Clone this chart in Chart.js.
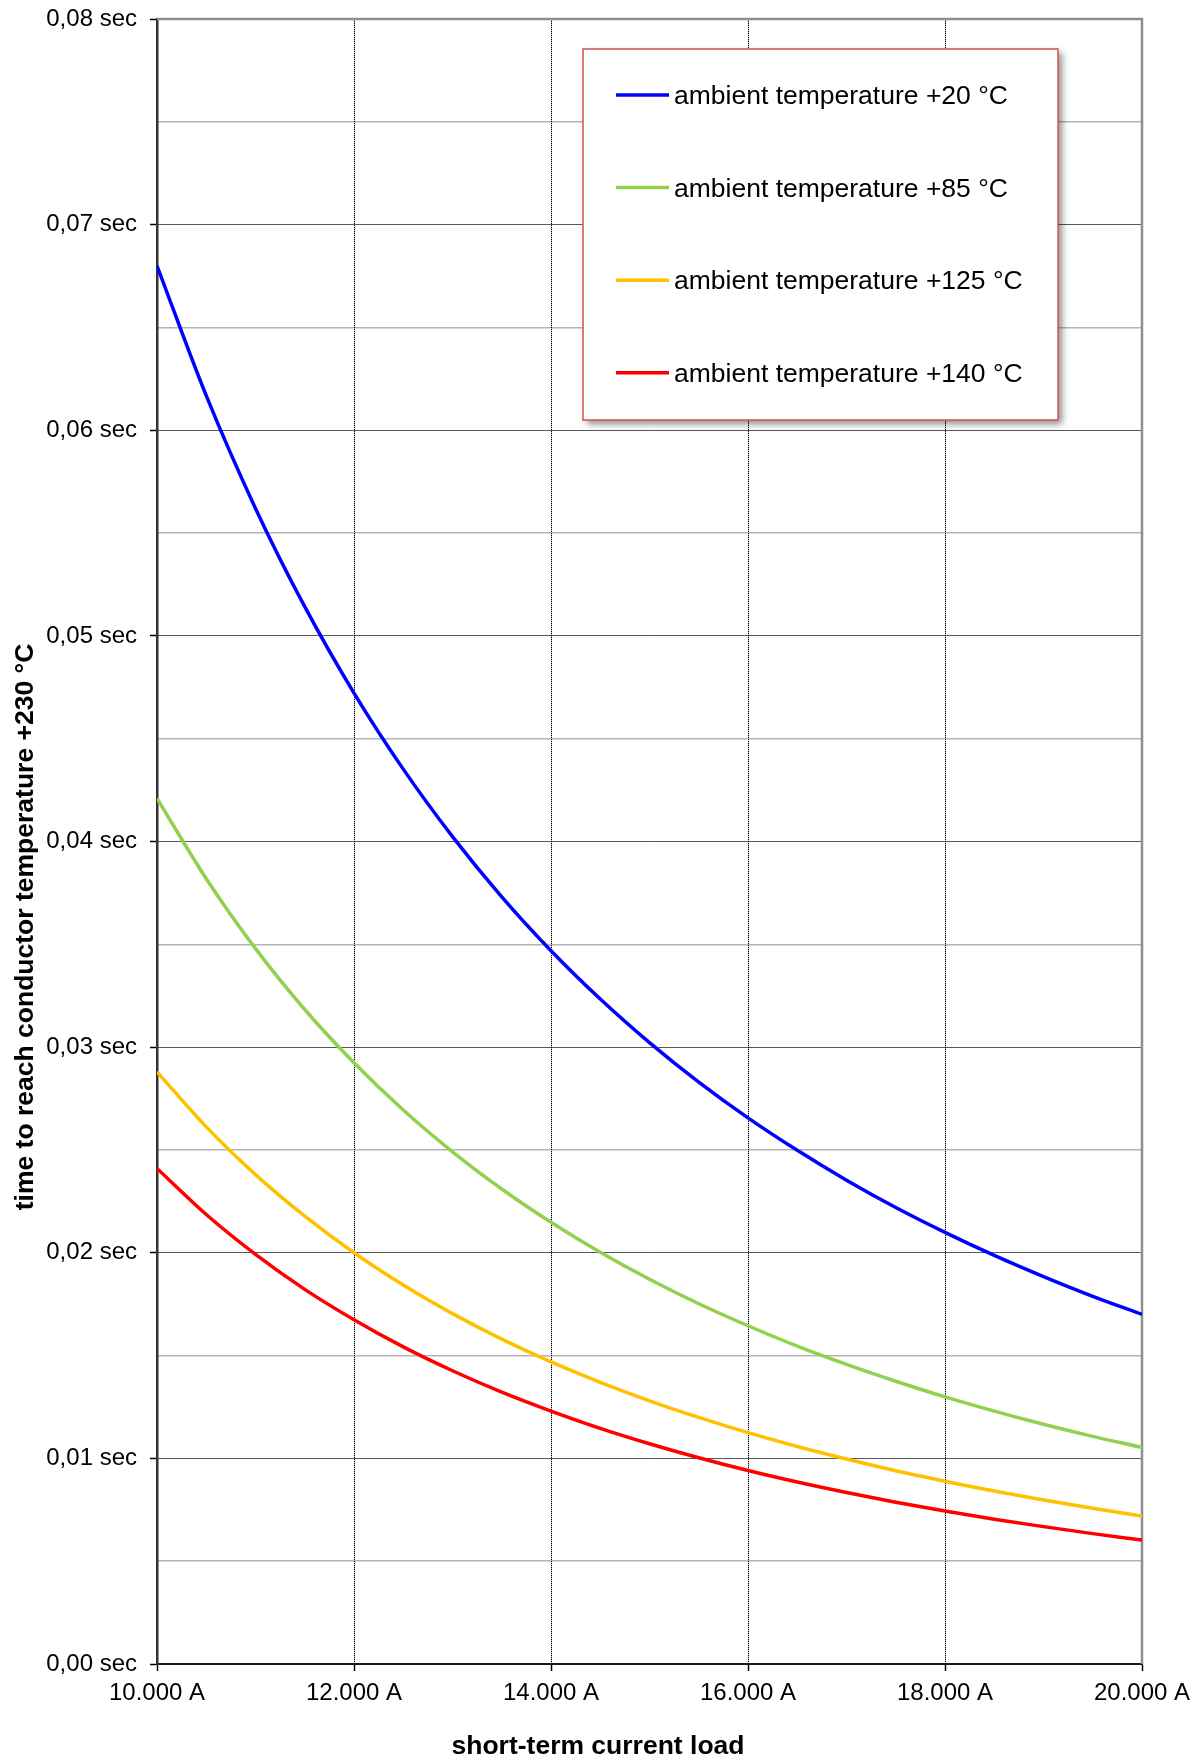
<!DOCTYPE html>
<html>
<head>
<meta charset="utf-8">
<script src="https://cdn.jsdelivr.net/npm/chart.js@4.4.1/dist/chart.umd.min.js"></script>
<style>
  html, body { margin: 0; padding: 0; background: #ffffff; }
  #wrap { width: 1201px; height: 1758px; position: relative; }
</style>
</head>
<body>
<div id="wrap"><canvas id="chart" width="1201" height="1758"></canvas></div>
<script>
// Short-term current load (A)
const currents = [10000, 10500, 11000, 11500, 12000, 12500, 13000, 13500, 14000, 14500, 15000,
                  15500, 16000, 16500, 17000, 17500, 18000, 18500, 19000, 19500, 20000];

// Time (s) until the conductor reaches +230 °C, per ambient temperature
const t20  = [0.06800, 0.06168, 0.05620, 0.05142, 0.04722, 0.04352, 0.04024, 0.03731, 0.03469, 0.03234, 0.03022,
              0.02830, 0.02656, 0.02498, 0.02353, 0.02220, 0.02099, 0.01987, 0.01884, 0.01788, 0.01700];
const t85  = [0.04210, 0.03819, 0.03479, 0.03183, 0.02924, 0.02694, 0.02491, 0.02310, 0.02148, 0.02002, 0.01871,
              0.01752, 0.01645, 0.01546, 0.01457, 0.01375, 0.01299, 0.01230, 0.01166, 0.01107, 0.01053];
const t125 = [0.02880, 0.02612, 0.02380, 0.02178, 0.02000, 0.01843, 0.01704, 0.01580, 0.01469, 0.01370, 0.01280,
              0.01199, 0.01125, 0.01058, 0.00997, 0.00940, 0.00889, 0.00841, 0.00798, 0.00757, 0.00720];
const t140 = [0.02410, 0.02186, 0.01992, 0.01822, 0.01674, 0.01542, 0.01426, 0.01322, 0.01230, 0.01146, 0.01071,
              0.01003, 0.00941, 0.00885, 0.00834, 0.00787, 0.00744, 0.00704, 0.00668, 0.00634, 0.00603];

const seriesNames = ['ambient temperature +20 °C', 'ambient temperature +85 °C',
                     'ambient temperature +125 °C', 'ambient temperature +140 °C'];
const seriesColors = ['#0000ff', '#92d050', '#ffc000', '#ff0000'];

// Axis ticks
const xTickValues = [10000, 12000, 14000, 16000, 18000, 20000];
const xTickLabels = ['10.000 A', '12.000 A', '14.000 A', '16.000 A', '18.000 A', '20.000 A'];
const yTickValues = [0, 0.01, 0.02, 0.03, 0.04, 0.05, 0.06, 0.07, 0.08];
const yTickLabels = ['0,00 sec', '0,01 sec', '0,02 sec', '0,03 sec', '0,04 sec',
                     '0,05 sec', '0,06 sec', '0,07 sec', '0,08 sec'];
const yMinorValues = [0.005, 0.015, 0.025, 0.035, 0.045, 0.055, 0.065, 0.075];

const xTitle = 'short-term current load';
const yTitle = 'time to reach conductor temperature +230 °C';

const FONT = '"Liberation Sans", Arial, Helvetica, sans-serif';

const seriesValues = [t20, t85, t125, t140];
const datasets = seriesValues.map((vals, i) => ({
  label: seriesNames[i],
  data: currents.map((c, k) => ({ x: c, y: vals[k] })),
  borderColor: seriesColors[i],
  backgroundColor: seriesColors[i],
  borderWidth: 3.5,
  pointRadius: 0,
  fill: false,
  cubicInterpolationMode: 'monotone'
}));

// Keep the plot area exactly where the axis sizes put it
function fixSize(prop, size) {
  return (s) => {
    s[prop] = size;
    s.paddingTop = 0; s.paddingBottom = 0; s.paddingLeft = 0; s.paddingRight = 0;
  };
}

// Solid frame on the top and right edges of the plot area
const frameEdges = {
  id: 'frameEdges',
  beforeDatasetsDraw(chart) {
    const { ctx, chartArea: a } = chart;
    ctx.save();
    ctx.strokeStyle = '#8e8e8e';
    ctx.lineWidth = 2.5;
    ctx.beginPath();
    ctx.moveTo(a.left, a.top);
    ctx.lineTo(a.right, a.top);
    ctx.lineTo(a.right, a.bottom);
    ctx.stroke();
    ctx.restore();
  }
};

// Boxed legend with drop shadow inside the plot area
const boxedLegend = {
  id: 'boxedLegend',
  afterDatasetsDraw(chart) {
    const { ctx, chartArea: a } = chart;
    const left = a.left + 426, top = a.top + 30, w = 475, h = 371;
    ctx.save();
    ctx.shadowColor = 'rgba(0,0,0,0.45)';
    ctx.shadowBlur = 7;
    ctx.shadowOffsetX = 4;
    ctx.shadowOffsetY = 4;
    ctx.fillStyle = '#ffffff';
    ctx.fillRect(left, top, w, h);
    ctx.restore();

    ctx.save();
    ctx.strokeStyle = '#d35b5b';
    ctx.lineWidth = 1.6;
    ctx.strokeRect(left, top, w, h);

    chart.data.datasets.forEach((ds, i) => {
      const y = top + 46 + i * 92.6;
      ctx.strokeStyle = ds.borderColor;
      ctx.lineWidth = 3.5;
      ctx.beginPath();
      ctx.moveTo(left + 33, y);
      ctx.lineTo(left + 86, y);
      ctx.stroke();
      ctx.fillStyle = '#000000';
      ctx.font = '26.5px ' + FONT;
      ctx.textAlign = 'left';
      ctx.textBaseline = 'alphabetic';
      ctx.fillText(ds.label, left + 91, y + 9);
    });
    ctx.restore();
  }
};

// Axis titles
const axisTitles = {
  id: 'axisTitles',
  afterDraw(chart) {
    const { ctx } = chart;
    ctx.save();
    ctx.fillStyle = '#000000';
    ctx.font = 'bold 26.5px ' + FONT;
    ctx.textAlign = 'center';
    ctx.textBaseline = 'alphabetic';
    ctx.fillText(xTitle, 598, 1754);
    ctx.translate(32.5, 927);
    ctx.rotate(-Math.PI / 2);
    ctx.fillText(yTitle, 0, 0);
    ctx.restore();
  }
};

const isMajorY = (v) => yTickValues.some(t => Math.abs(t - v) < 1e-9);

new Chart(document.getElementById('chart'), {
  type: 'line',
  data: { datasets },
  options: {
    responsive: false,
    devicePixelRatio: 1,
    animation: false,
    layout: { padding: { top: 19, right: 59, left: 0, bottom: 0 } },
    plugins: { legend: { display: false }, tooltip: { enabled: false } },
    scales: {
      // grey underlay for the dotted vertical grid
      xUnder: {
        type: 'linear',
        position: 'bottom',
        min: 10000,
        max: 20000,
        afterBuildTicks: (s) => { s.ticks = xTickValues.map(v => ({ value: v })); },
        afterFit: fixSize('height', 0),
        ticks: { display: false },
        grid: { color: '#b0b0b0', lineWidth: 1, drawTicks: false, z: -2 },
        border: { display: false, dash: [] }
      },
      x: {
        type: 'linear',
        position: 'bottom',
        min: 10000,
        max: 20000,
        afterBuildTicks: (s) => { s.ticks = xTickValues.map(v => ({ value: v })); },
        afterFit: fixSize('height', 94),
        ticks: {
          autoSkip: false,
          maxRotation: 0,
          padding: 8,
          color: '#000000',
          font: { family: FONT, size: 24 },
          callback: (v, i) => xTickLabels[i]
        },
        grid: {
          color: '#000000',
          lineWidth: 1,
          borderDash: [1, 1],
          tickColor: '#000000',
          tickLength: 7,
          tickWidth: 1.5,
          tickBorderDash: [],
          z: -1
        },
        border: { display: true, color: '#1a1a1a', width: 2, dash: [1, 1] }
      },
      // minor grid every 0.005 s, plus grey underlay for the dotted major lines
      yMinor: {
        type: 'linear',
        position: 'left',
        min: 0,
        max: 0.08,
        afterBuildTicks: (s) => {
          s.ticks = yTickValues.concat(yMinorValues).sort((a, b) => a - b).map(v => ({ value: v }));
        },
        afterFit: fixSize('width', 0),
        ticks: { display: false },
        grid: {
          color: (c) => isMajorY(c.tick.value) ? '#b0b0b0' : '#b4b4b4',
          lineWidth: (c) => isMajorY(c.tick.value) ? 1 : 1.5,
          drawTicks: false,
          z: -2
        },
        border: { display: false, dash: [] }
      },
      y: {
        type: 'linear',
        position: 'left',
        min: 0,
        max: 0.08,
        afterBuildTicks: (s) => { s.ticks = yTickValues.map(v => ({ value: v })); },
        afterFit: fixSize('width', 157),
        ticks: {
          autoSkip: false,
          padding: 13,
          color: '#000000',
          font: { family: FONT, size: 24 },
          callback: (v, i) => yTickLabels[i]
        },
        grid: {
          color: '#000000',
          lineWidth: 1,
          borderDash: [1, 1],
          tickColor: '#000000',
          tickLength: 7,
          tickWidth: 1.5,
          tickBorderDash: [],
          z: -1
        },
        border: { display: true, color: '#333333', width: 2.5, dash: [1, 1] }
      }
    }
  },
  plugins: [frameEdges, boxedLegend, axisTitles]
});
</script>
</body>
</html>
